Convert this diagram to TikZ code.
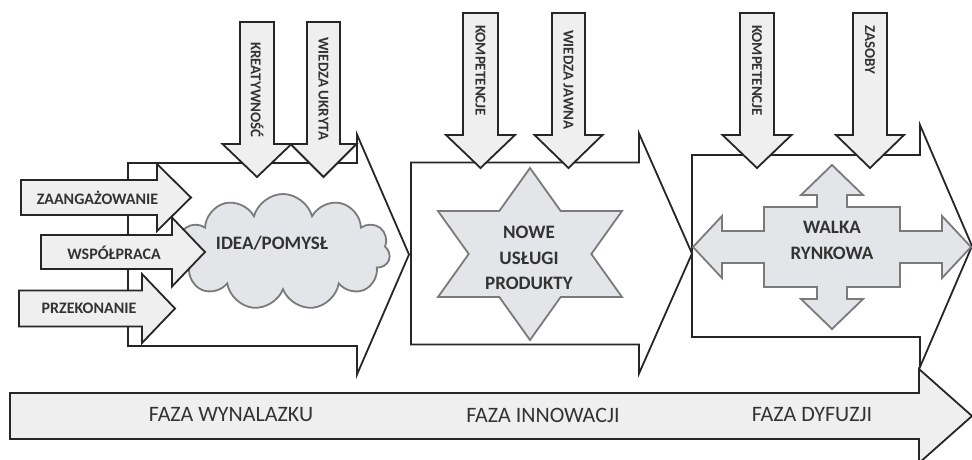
\documentclass[tikz,border=0pt]{standalone}
\usepackage{fontspec}
\setmainfont{Carlito}
\usetikzlibrary{shapes.symbols}
\definecolor{arrfill}{HTML}{EFEFEF}
\definecolor{shpfill}{HTML}{E4E5E8}
\definecolor{shpline}{HTML}{7A7A7A}
\definecolor{outl}{HTML}{262626}
\definecolor{txtc}{HTML}{333333}
\newcommand{\myRarrow}[7][]{\draw[#1] (#2,{#3-#4}) -- (#5,{#3-#4}) -- (#5,{#3-#6}) -- (#7,#3) -- (#5,{#3+#6}) -- (#5,{#3+#4}) -- (#2,{#3+#4}) -- cycle;}
\newcommand{\myDarrow}[7][]{\draw[#1] ({#2-#4},#3) -- ({#2+#4},#3) -- ({#2+#4},#5) -- ({#2+#6},#5) -- (#2,#7) -- ({#2-#6},#5) -- ({#2-#4},#5) -- cycle;}
\tikzset{
  phasearr/.style={draw=outl, fill=white, line width=1.8pt},
  blockarr/.style={draw=outl, fill=arrfill, line width=1.8pt},
  graysh/.style={draw=shpline, fill=shpfill, line width=1.8pt},
  sidelbl/.style={text=txtc, font=\bfseries\fontsize{16}{19}\selectfont, inner sep=0},
  toplbl/.style={text=txtc, font=\bfseries\fontsize{15}{18}\selectfont, inner sep=0, rotate=-90, anchor=west},
  biglbl/.style={text=txtc, font=\bfseries\fontsize{19}{25.5}\selectfont, inner sep=0, align=center},
  phaselbl/.style={text=txtc, font=\fontsize{22}{26}\selectfont, inner sep=0}
}
\begin{document}
\begin{tikzpicture}[x=1pt,y=-1pt]
\useasboundingbox (0,0) rectangle (972,459);
% phase arrows
\myRarrow[phasearr]{128}{254.5}{91.5}{357}{120}{409}
\myRarrow[phasearr]{411}{253.5}{91}{639}{120}{692}
\myRarrow[phasearr]{692}{246}{91}{920}{121}{972}
% cloud
\node[cloud, cloud puffs=11, cloud ignores aspect, minimum width=214pt, minimum height=116pt, graysh, inner sep=0] (cloud) at (283,252) {};
% star
\draw[graysh] (530,168) -- (560.7,211) -- (622,211) -- (591.3,254) -- (622,297) -- (560.7,297) -- (530,340) -- (499.3,297) -- (438,297) -- (468.7,254) -- (438,211) -- (499.3,211) -- cycle;
% cross arrow
\begin{scope}[shift={(832,247)}]
\draw[graysh] (0,-82) -- (31,-52) -- (15,-52) -- (15,-40) -- (68,-40) -- (68,-16) -- (110,-16) -- (110,-31) -- (139,0) -- (110,31) -- (110,16) -- (68,16) -- (68,40) -- (15,40) -- (15,52) -- (31,52) -- (0,82) -- (-31,52) -- (-15,52) -- (-15,40) -- (-68,40) -- (-68,16) -- (-110,16) -- (-110,31) -- (-139,0) -- (-110,-31) -- (-110,-16) -- (-68,-16) -- (-68,-40) -- (-15,-40) -- (-15,-52) -- (-31,-52) -- cycle;
\end{scope}
% top arrows
\myDarrow[blockarr]{257}{22}{17}{144}{34.5}{177}
\myDarrow[blockarr]{323.5}{22}{16.5}{144}{33}{177}
\myDarrow[blockarr]{480.5}{13}{17.5}{135}{34.5}{168}
\myDarrow[blockarr]{568.5}{13}{16.5}{135}{34}{168}
\myDarrow[blockarr]{757}{13}{17}{135}{34.5}{168}
\myDarrow[blockarr]{870}{13}{17}{135}{34}{168}
% left arrows
\myRarrow[blockarr]{21}{197.5}{17.5}{157}{33.5}{191}
\myRarrow[blockarr]{19}{308.5}{18}{142}{34.5}{175}
\myRarrow[blockarr]{41}{252}{17}{172}{34.5}{205}
% bottom arrow
\myRarrow[blockarr]{10}{416}{23}{919}{47}{972}
% labels
\node[toplbl] (l1) at (257,42) {KREATYWNOŚĆ};
\node[toplbl] (l2) at (323.5,37) {WIEDZA UKRYTA};
\node[toplbl] (l3) at (480.5,25) {KOMPETENCJE};
\node[toplbl] (l4) at (568.5,30) {WIEDZA JAWNA};
\node[toplbl] (l5) at (757,25) {KOMPETENCJE};
\node[toplbl] (l6) at (870,25) {ZASOBY};
\node[sidelbl] (s1) at (97.5,198) {ZAANGAŻOWANIE};
\node[sidelbl] (s2) at (114,253) {WSPÓŁPRACA};
\node[sidelbl] (s3) at (89,308) {PRZEKONANIE};
\node[biglbl] (idea) at (272,243) {IDEA/POMYSŁ};
\node[biglbl] (nowe) at (529,258) {NOWE\\USŁUGI\\PRODUKTY};
\node[biglbl] (walka) at (832,240.5) {WALKA\\RYNKOWA};
\node[phaselbl] (f1) at (231,415) {FAZA WYNALAZKU};
\node[phaselbl] (f2) at (543,415) {FAZA INNOWACJI};
\node[phaselbl] (f3) at (812,415) {FAZA DYFUZJI};
\end{tikzpicture}
\end{document}
